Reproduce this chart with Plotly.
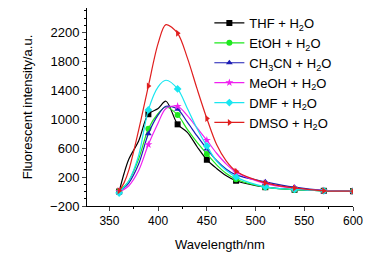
import plotly.graph_objects as go

# wavelength grid (nm)
wl = [360, 365, 370, 380, 390, 400, 408, 420, 430, 440, 450, 460, 470, 480, 510, 540, 570, 600]

thf   = [0, 250, 450, 700, 1070, 1150, 1250, 930, 820, 620, 440, 320, 220, 150, 60, 25, 10, 5]
etoh  = [0, 70, 150, 450, 870, 1080, 1170, 1060, 860, 680, 520, 370, 250, 170, 60, 25, 10, 5]
ch3cn = [0, 50, 120, 380, 800, 1060, 1180, 1140, 960, 770, 590, 430, 310, 230, 135, 60, 15, 5]
meoh  = [0, 30, 80, 290, 650, 950, 1150, 1180, 1050, 880, 710, 530, 380, 270, 110, 45, 12, 5]
dmf   = [-20, 60, 150, 500, 1130, 1450, 1540, 1420, 1150, 870, 630, 420, 290, 200, 65, 30, 10, 5]
dmso  = [10, 120, 300, 850, 1460, 2050, 2310, 2190, 1850, 1420, 1010, 650, 420, 280, 120, 50, 10, 5]

names = ["THF + H<sub>2</sub>O", "EtOH + H<sub>2</sub>O", "CH<sub>3</sub>CN + H<sub>2</sub>O",
         "MeOH + H<sub>2</sub>O", "DMF + H<sub>2</sub>O", "DMSO + H<sub>2</sub>O"]
series = [thf, etoh, ch3cn, meoh, dmf, dmso]
colors = ["#000000", "#1ee81e", "#1c1cb4", "#f020f0", "#19e6f0", "#e01e1e"]
symbols = ["square", "circle", "triangle-up", "star", "diamond", "triangle-right"]

marker_every = 30

fig = go.Figure()
for i, (name, ys, c, s) in enumerate(zip(names, series, colors, symbols)):
    fig.add_trace(go.Scatter(x=wl, y=ys, mode="lines", line=dict(color=c, width=1.2, shape="spline", smoothing=0.9),
                             showlegend=False, hoverinfo="skip"))
    mx = [x for x in wl if x % marker_every == 0]
    my = [y for x, y in zip(wl, ys) if x % marker_every == 0]
    fig.add_trace(go.Scatter(x=mx, y=my, mode="markers", marker=dict(color=c, symbol=s, size=6),
                             showlegend=False))
    fig.add_trace(go.Scatter(x=[None], y=[None], mode="lines+markers", name=name,
                             line=dict(color=c, width=1.2), marker=dict(color=c, symbol=s, size=6)))

axis_font = dict(family="Arial, Liberation Sans, sans-serif", color="#000000")
fig.update_layout(
    width=364, height=250,
    margin=dict(l=79, r=19, t=0, b=52),
    paper_bgcolor="white", plot_bgcolor="white",
    font=dict(family="Arial, Liberation Sans, sans-serif", size=12, color="#000000"),
    showlegend=True,
    legend=dict(x=0.46, y=1.0, xanchor="left", yanchor="top", bgcolor="rgba(0,0,0,0)",
                font=dict(size=13), itemwidth=30),
    xaxis=dict(range=[327, 600], tick0=350, dtick=50, ticks="outside", ticklen=4, tickwidth=1,
               showline=True, linecolor="black", linewidth=1, showgrid=False, zeroline=False,
               tickfont=dict(size=12, **axis_font),
               minor=dict(dtick=25, ticks="outside", ticklen=2, tickcolor="black"),
               title=dict(text="Wavelength/nm", font=dict(size=13, **axis_font), standoff=12)),
    yaxis=dict(range=[-200, 2540], tick0=-200, dtick=400, ticks="outside", ticklen=4, tickwidth=1,
               showline=True, linecolor="black", linewidth=1, showgrid=False, zeroline=False,
               tickfont=dict(size=13, **axis_font),
               minor=dict(dtick=100, ticks="outside", ticklen=2, tickcolor="black"),
               title=dict(text="Fluorescent intensity/a.u.", font=dict(size=13, **axis_font), standoff=14)),
)

fig.write_html("out.html")
